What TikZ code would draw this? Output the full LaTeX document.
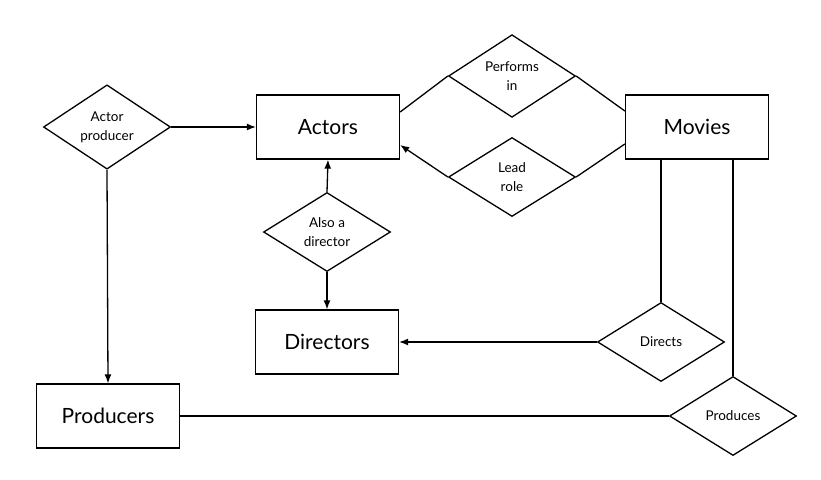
\documentclass[tikz,border=0pt]{standalone}
\usepackage{fontspec}
\setmainfont{Lato}
\usepackage{tikz}
\usetikzlibrary{shapes.geometric,arrows.meta,calc}

\tikzset{
  entity/.style={draw,line width=1.3pt,minimum width=143pt,minimum height=64pt,
    inner sep=0pt,font=\fontsize{21}{25}\selectfont},
  relation/.style={draw,diamond,line width=1.3pt,minimum width=127pt,minimum height=79pt,
    inner sep=0pt,align=center,font=\fontsize{13.5}{19}\selectfont},
  link/.style={line width=1.3pt},
  arr/.style={line width=1.3pt,-{Latex[length=9pt,width=7pt]}}
}

\begin{document}
\begin{tikzpicture}[x=1pt,y=-1pt]
%\draw[help lines,step=50] (0,0) grid (821,479);
\useasboundingbox (0,0) rectangle (821,479);

% entities
\node[entity] (actors) at (328,127) {Actors};
\node[entity] (movies) at (697,127) {Movies};
\node[entity] (directors) at (327,342) {Directors};
\node[entity] (producers) at (108,416) {Producers};

% relations
\node[relation] (actprod) at (107,127) {Actor\\producer};
\node[relation] (performs) at (512,76) {Performs\\in};
\node[relation] (leadrole) at (512,177) {Lead\\role};
\node[relation] (alsodir) at (327,232) {Also a\\director};
\node[relation] (directs) at (661,342) {Directs};
\node[relation] (produces) at (733,416) {Produces};

\draw[arr] (actprod.east)--(actors.west);
\draw[arr] (actprod.south)--(producers.north);

\draw[link] ([yshift=15pt]actors.east)--(performs.west);
\draw[link] (performs.east)--([yshift=16pt]movies.west);
\draw[link] ([yshift=-17pt]movies.west)--(leadrole.east);
\draw[arr] (leadrole.west)--([yshift=-18pt]actors.east);

\draw[arr] (alsodir.north)--(actors.south);
\draw[arr] (alsodir.south)--(directors.north);

\draw[link] (movies.south-|directs.north)--(directs.north);
\draw[arr] (directs.west)--(directors.east);
\draw[link] (movies.south-|produces.north)--(produces.north);
\draw[link] (produces.west)--(producers.east);
\end{tikzpicture}
\end{document}
